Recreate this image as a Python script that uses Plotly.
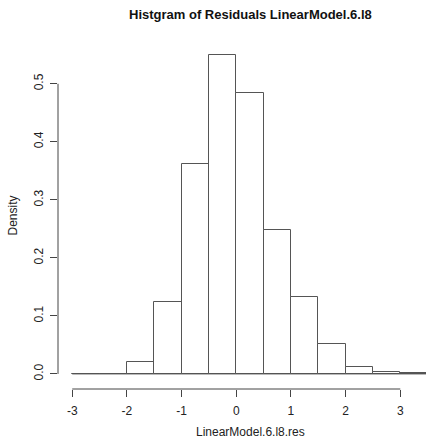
import plotly.graph_objects as go

# Histogram bins (width 0.5) and densities
bin_edges = [-3.0, -2.5, -2.0, -1.5, -1.0, -0.5, 0.0, 0.5, 1.0, 1.5, 2.0, 2.5, 3.0, 3.5]
density = [0.0, 0.0, 0.0207, 0.1234, 0.361, 0.549, 0.4845, 0.248, 0.132, 0.0517, 0.0117, 0.0034, 0.0015]

x_ticks = [-3, -2, -1, 0, 1, 2, 3]
x_tick_labels = ["-3", "-2", "-1", "0", "1", "2", "3"]
y_ticks = [0.0, 0.1, 0.2, 0.3, 0.4, 0.5]
y_tick_labels = ["0.0", "0.1", "0.2", "0.3", "0.4", "0.5"]

title_text = "Histgram of Residuals LinearModel.6.l8"
x_label = "LinearModel.6.l8.res"
y_label = "Density"

centers = [(a + b) / 2 for a, b in zip(bin_edges[:-1], bin_edges[1:])]
widths = [b - a for a, b in zip(bin_edges[:-1], bin_edges[1:])]

FONT = "Liberation Sans, Arial, sans-serif"
LINE = "#555555"

fig = go.Figure()
# baseline for the zero-height bins (R draws them as flat lines)
fig.add_trace(go.Scatter(
    x=[bin_edges[0], bin_edges[-1]], y=[0, 0], mode="lines",
    line=dict(color=LINE, width=1), hoverinfo="skip", showlegend=False,
))
fig.add_trace(go.Bar(
    x=centers, y=density, width=widths,
    marker=dict(color="white", line=dict(color=LINE, width=1)),
    showlegend=False,
))

W, H = 426, 447
ml, mr, mt, mb = 58, 0, 42, 58

fig.update_layout(
    width=W, height=H,
    margin=dict(l=ml, r=mr, t=mt, b=mb, autoexpand=False),
    paper_bgcolor="white", plot_bgcolor="white",
    font=dict(family=FONT, size=12, color="#222"),
    bargap=0,
    xaxis=dict(
        range=[-3.26, 3.47], tickmode="array", tickvals=x_ticks, ticktext=x_tick_labels,
        showgrid=False, zeroline=False, showline=False, automargin=False,
        ticks="outside", ticklen=7, tickcolor="#444", tickwidth=1, ticklabelstandoff=4,
        tickfont=dict(family=FONT, size=12, color="#222"),
    ),
    yaxis=dict(
        range=[-0.026, 0.572], tickmode="array", tickvals=y_ticks, ticktext=y_tick_labels,
        showgrid=False, zeroline=False, showline=False, automargin=False,
        ticks="outside", ticklen=7, tickcolor="#444", tickwidth=1, tickangle=-90,
        ticklabelstandoff=2,
        tickfont=dict(family=FONT, size=12, color="#222"),
    ),
    shapes=[
        dict(type="line", xref="x", yref="paper", x0=min(x_ticks), x1=max(x_ticks), y0=0, y1=0,
             line=dict(color="#444", width=1)),
        dict(type="line", xref="paper", yref="y", x0=0, x1=0, y0=min(y_ticks), y1=max(y_ticks),
             line=dict(color="#444", width=1)),
    ],
    annotations=[
        dict(text="<b>" + title_text + "</b>", xref="paper", yref="paper",
             x=(250 - ml) / (W - ml - mr), y=1 + (mt - 15) / (H - mt - mb),
             xanchor="center", yanchor="middle", showarrow=False,
             font=dict(family=FONT, size=13, color="#111")),
        dict(text=x_label, xref="paper", yref="paper",
             x=(250 - ml) / (W - ml - mr), y=-(432 - (H - mb)) / (H - mt - mb),
             xanchor="center", yanchor="middle", showarrow=False,
             font=dict(family=FONT, size=12, color="#222")),
        dict(text=y_label, xref="paper", yref="paper", textangle=-90,
             x=-(ml - 12) / (W - ml - mr), y=0.5,
             xanchor="center", yanchor="middle", showarrow=False,
             font=dict(family=FONT, size=12, color="#222")),
    ],
)

fig.write_html(
    "out.html",
    config={"displayModeBar": False},
    post_script="document.body.style.margin='0';document.body.style.padding='0';",
)
